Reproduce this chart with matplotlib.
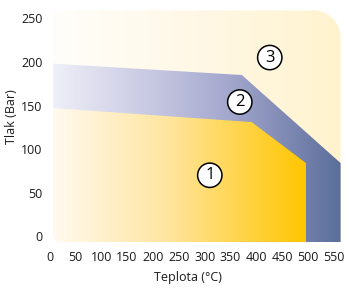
import numpy as np
import matplotlib
matplotlib.use("Agg")
import matplotlib.pyplot as plt
from matplotlib.colors import LinearSegmentedColormap
from matplotlib.patches import Polygon

plt.rcParams['font.family'] = ['Open Sans', 'DejaVu Sans']

# region boundaries (temperature degC, pressure bar)
area_t = [7, 563]
area_p = [-7, 259]
blue_t = [7, 372, 563]
blue_p = [198, 185, 84]
yellow_t = [7, 391, 496]
yellow_p = [147, 131, 84]
labels = ['1', '2', '3']
label_t = [310, 368, 426]
label_p = [70, 154, 205]
xticks = list(range(0, 551, 50))
yticks = list(range(0, 251, 50))

fig = plt.figure(figsize=(3.47, 2.91), dpi=100)
ax = fig.add_axes([0.1427, 0.158, 0.8493, 0.815])

# pixel scale, so that the rounded corners look round
sx = 294.7 / 570
sy = 237.2 / 272


def corner_arc(cx, cy, r, a0, a1, n=14):
    rx, ry = r / sx, r / sy
    return [(cx + rx * np.cos(a), cy + ry * np.sin(a)) for a in np.linspace(a0, a1, n)]


x0, x1 = area_t
y0, y1 = area_p
r_bl, r_tr = 9, 27
bl_arc = corner_arc(x0 + r_bl / sx, y0 + r_bl / sy, r_bl, np.pi, 1.5 * np.pi)
tr_arc = corner_arc(x1 - r_tr / sx, y1 - r_tr / sy, r_tr, 0, 0.5 * np.pi, 24)

# outlines: background box, blue band (goes under yellow), yellow region
box = bl_arc + [(x1, y0)] + tr_arc + [(x0, y1)]
blue_poly = bl_arc + [(blue_t[-1], y0)] + list(zip(blue_t, blue_p))[::-1]
yel_poly = bl_arc + [(yellow_t[-1], y0)] + list(zip(yellow_t, yellow_p))[::-1]

grad = np.linspace(0, 1, 256).reshape(1, -1)
cm_bg = LinearSegmentedColormap.from_list('bg', ['#FFFEFA', '#FFF8E6', '#FFF3CE'])
cm_blue = LinearSegmentedColormap.from_list(
    'bl', [(0, '#EFEFF8'), (0.35, '#C6C7E1'), (0.62, '#A2A6CC'), (1, '#5B6E9B')])
cm_yel = LinearSegmentedColormap.from_list(
    'ye', [(0, '#FFFAF0'), (0.45, '#FFE5A0'), (1, '#FFC600')])

layers = [
    (box, cm_bg, (x0, x1)),
    (blue_poly, cm_blue, (blue_t[0], blue_t[-1])),
    (yel_poly, cm_yel, (yellow_t[0], yellow_t[-1])),
]
for z, (poly, cmap, (ta, tb)) in enumerate(layers):
    patch = Polygon(poly, closed=True, transform=ax.transData, facecolor='none', edgecolor='none')
    ax.add_patch(patch)
    im = ax.imshow(grad, extent=(ta, tb, y0, y1), aspect='auto', cmap=cmap,
                   interpolation='bilinear', zorder=1 + z)
    im.set_clip_path(patch)

# circled region numbers
for lab, t, p in zip(labels, label_t, label_p):
    ax.text(t, p, lab, ha='center', va='center', fontsize=12, color='black', zorder=5,
            bbox=dict(boxstyle='circle,pad=0.25', facecolor='white', edgecolor='black', linewidth=1.1))

ax.set_xlim(0, 570)
ax.set_ylim(-10, 262)
ax.set_xticks(xticks)
ax.set_yticks(yticks)
ax.tick_params(length=0, labelsize=9, colors='#1a1a1a')
ax.tick_params(axis='y', pad=4.9)
ax.tick_params(axis='x', pad=4.1)
for s in ax.spines.values():
    s.set_visible(False)

fig.text(11.5 / 347, 1 - 117 / 291, 'Tlak (Bar)', rotation=90, ha='center', va='center',
         fontsize=9, color='#1a1a1a')
fig.text(187.5 / 347, 1 - 278 / 291, 'Teplota (°C)', ha='center', va='center',
         fontsize=9, color='#1a1a1a')

fig.savefig('out.png', dpi=100)
